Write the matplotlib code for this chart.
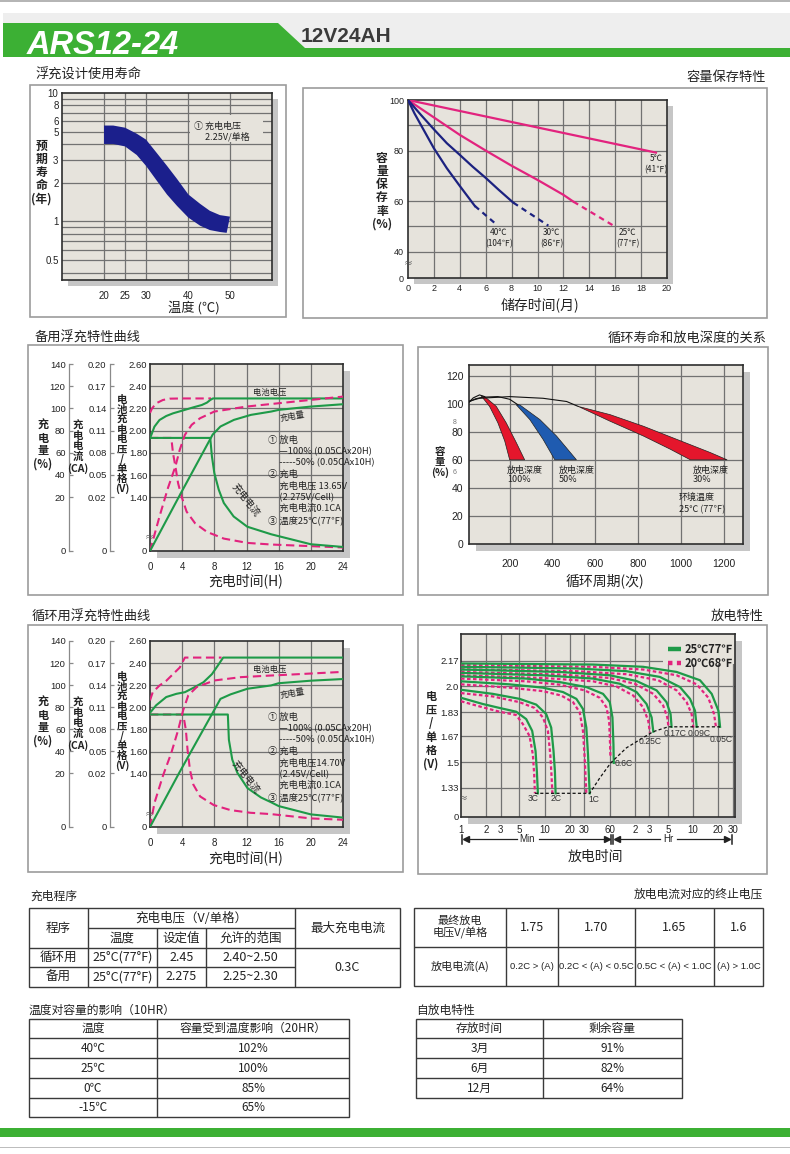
import numpy as np
import matplotlib
matplotlib.use('Agg')
import matplotlib.pyplot as plt
from matplotlib.patches import Rectangle, Polygon
from matplotlib.ticker import NullLocator, NullFormatter

# ===================== DATA =====================
# 1. Float service life vs temperature (band)
life_temp_upper = [20, 22.2, 25, 27.8, 30, 32.6, 35, 37.4, 40.1, 42.9, 45.2, 47.6, 50]
life_years_upper = [5.58, 5.58, 5.37, 4.82, 4.34, 3.40, 2.71, 2.14, 1.62, 1.37, 1.21, 1.12, 1.09]
life_temp_lower = [20, 22.2, 25, 27.8, 30, 32.6, 35, 37.4, 40.1, 42.9, 45.2, 47.6, 49.2]
life_years_lower = [4.01, 4.01, 3.84, 3.29, 2.71, 2.07, 1.62, 1.32, 1.07, 0.926, 0.857, 0.828, 0.815]
life_xticks = [20, 25, 30, 40, 50]
life_yticks = [0.5, 1, 2, 3, 5, 6, 8, 10]
life_ytick_labels = ['0.5', '1', '2', '3', '5', '6', '8', '10']

# 2. Capacity retention during storage
st_month_5C = [0, 19.15]
st_cap_5C = [100, 79.2]
st_month_25C = [0, 2, 4, 6, 8, 10, 12, 12.77]
st_cap_25C = [100, 93.1, 86.2, 80.0, 74.0, 68.4, 62.5, 59.8]
st_month_25C_ext = [12.77, 15.87]
st_cap_25C_ext = [59.8, 50.3]
st_month_30C = [0, 1, 2, 3, 4, 5, 6, 7, 8.13]
st_cap_30C = [100, 94.1, 88.4, 82.9, 78.3, 73.6, 69.2, 64.5, 59.4]
st_month_30C_ext = [8.13, 10.84]
st_cap_30C_ext = [59.4, 50.3]
st_month_40C = [0, 0.5, 1, 2, 3, 4, 5.16]
st_cap_40C = [100, 94.7, 90.1, 80.9, 73.0, 66.0, 58.1]
st_month_40C_ext = [5.16, 6.71]
st_cap_40C_ext = [58.1, 51.3]
st_xticks = [0, 2, 4, 6, 8, 10, 12, 14, 16, 18, 20]
st_yticks = [0, 40, 60, 80, 100]

# 3. Standby float charging characteristics
sb_v100_t = [0, 0.55, 1.18, 2.02, 2.86, 4.0, 5.39, 6.44, 7.07, 7.49, 7.83, 24]
sb_v100 = [1.93, 2.036, 2.096, 2.132, 2.156, 2.18, 2.21, 2.231, 2.252, 2.276, 2.29, 2.29]
sb_v50_t = [0, 0.25, 0.76, 1.6, 2.44, 4.0, 7.6]
sb_v50 = [2.16, 2.20, 2.246, 2.276, 2.288, 2.29, 2.29]
sb_i100_t = [0, 7.49, 7.7, 8.0, 8.55, 9.18, 10.4, 12.1, 15.07, 16, 20, 24]
sb_i100 = [0.1, 0.1, 0.075, 0.0524, 0.0299, 0.0178, 0.0128, 0.009, 0.0062, 0.0055, 0.0025, 0.0015]
sb_i50_t = [0, 2.65, 2.86, 3.16, 3.49, 3.92, 4.55, 5.6, 7.07, 9.18, 12.1, 15.1, 24]
sb_i50 = [0.1, 0.1, 0.0794, 0.0614, 0.0389, 0.0209, 0.0146, 0.0103, 0.0071, 0.0046, 0.003, 0.0024, 0.0013]
sb_q100_t = [0, 3.58, 7.8, 8.76, 10.44, 12.55, 15.07, 16, 20, 24]
sb_q100 = [0, 20, 76.4, 83.6, 89.6, 94.1, 97.1, 98.6, 101.6, 103.7]
sb_q50_t = [0, 1.18, 2.23, 3.16, 3.70, 4.34, 5.18, 6.23, 8.0, 12, 16, 20, 24]
sb_q50 = [0, 12.75, 28.1, 47.6, 62.6, 76.1, 85.1, 91.1, 97.1, 101.6, 104.6, 107.6, 110.6]

# 4. Cycle-use charging characteristics
cy_v100_t = [0, 0.76, 2.02, 3.28, 4.34, 5.39, 6.65, 7.7, 8.42, 9.1, 24]
cy_v100 = [1.95, 2.018, 2.093, 2.122, 2.137, 2.176, 2.227, 2.30, 2.376, 2.45, 2.45]
cy_v50_t = [0, 0.34, 1.18, 2.02, 2.86, 3.7, 4.34, 8.9]
cy_v50 = [2.063, 2.137, 2.197, 2.24, 2.30, 2.36, 2.45, 2.45]
cy_i100_t = [0, 9.68, 9.81, 10.23, 10.86, 12.12, 13.8, 15.07, 16, 20, 24]
cy_i100 = [0.1, 0.1, 0.0656, 0.0387, 0.0208, 0.0145, 0.011, 0.0092, 0.0078, 0.0047, 0.0035]
cy_i50_t = [0, 4.13, 4.46, 4.67, 4.97, 5.39, 6.23, 7.91, 10.0, 12.5, 15.07, 20, 24]
cy_i50 = [0.1, 0.1, 0.079, 0.052, 0.0246, 0.0158, 0.0114, 0.0082, 0.0063, 0.0053, 0.0048, 0.0032, 0.0027]
cy_q100_t = [0, 3.6, 8.76, 10.02, 12.12, 15.07, 16, 20, 24]
cy_q100 = [0, 20, 87.5, 91.6, 96.7, 99.7, 101.7, 104, 105.5]
cy_q50_t = [0, 0.55, 1.6, 2.65, 3.49, 4.13, 4.76, 5.81, 8.0, 11.28, 15.07, 16, 20, 24]
cy_q50 = [0, 8.9, 19, 38.5, 59.0, 77.3, 90.7, 98.2, 104.2, 107.2, 108.7, 109, 110.5, 112]

ch_xticks = [0, 4, 8, 12, 16, 20, 24]
ch_vticks = [0, 1.4, 1.6, 1.8, 2.0, 2.2, 2.4, 2.6]
ch_vtick_labels = ['0', '1.40', '1.60', '1.80', '2.00', '2.20', '2.40', '2.60']
ch_iticks = [0, 0.02, 0.05, 0.08, 0.11, 0.14, 0.17, 0.20]
ch_itick_labels = ['0', '0.02', '0.05', '0.08', '0.11', '0.14', '0.17', '0.20']
ch_qticks = [0, 20, 40, 60, 80, 100, 120, 140]

# 5. Cycle life vs depth of discharge
dod100_left_x = [67, 106, 145, 177, 200]
dod100_left_y = [105.9, 98.4, 86.6, 73.6, 60.2]
dod100_right_x = [83, 137.5, 184, 231, 270]
dod100_right_y = [105.4, 98.4, 86.6, 72.5, 60.2]
dod50_left_x = [231, 294, 356, 411]
dod50_left_y = [99.5, 89, 74.8, 60.2]
dod50_right_x = [247, 341, 419, 512]
dod50_right_y = [99.5, 89, 77.2, 60.2]
dod30_upper_x = [520, 669, 825, 981, 1137, 1216]
dod30_upper_y = [98.4, 92.5, 84.2, 74.8, 65.4, 60.2]
dod30_lower_x = [520, 669, 825, 950, 1044]
dod30_lower_y = [98.4, 87.8, 77.2, 67.8, 60.2]
arcA_x = [5, 30, 59, 83]
arcA_y = [100.7, 104.5, 106.6, 105.4]
arcB_x = [5, 40, 75, 145, 200, 239]
arcB_y = [101.2, 103.8, 105, 105.4, 103.5, 99.5]
arcC_x = [5, 59, 200, 356, 466, 520]
arcC_y = [101.9, 104.2, 105.4, 104.2, 101.9, 98.4]
cyc_xticks = [200, 400, 600, 800, 1000, 1200]
cyc_yticks = [0, 20, 40, 60, 80, 100, 120]

# 6. Discharge characteristics (t in minutes, V per cell)
d_rates = ['3C', '2C', '1C', '0.6C', '0.25C', '0.17C', '0.09C', '0.05C']
d25_t = [
    [1, 1.82, 2.88, 4.57, 6.03, 7.11, 7.80, 8.09, 8.32],
    [1, 2.40, 5.01, 7.94, 10.47, 12.0, 12.8, 13.3, 13.55],
    [1, 3.80, 9.55, 16.6, 24.0, 28.8, 31.6, 33.1, 34.0, 34.7],
    [1, 6.03, 15.1, 31.6, 50.1, 60.3, 64.9, 66.7, 67.3],
    [1, 9.55, 38.0, 79.4, 126, 166, 191, 200],
    [1, 15.1, 60.3, 126, 219, 288, 322, 331],
    [1, 24.0, 95.5, 240, 417, 550, 631, 661],
    [1, 38.0, 151, 380, 724, 1000, 1202, 1259],
]
d25_v = [
    [1.925, 1.884, 1.858, 1.833, 1.784, 1.706, 1.572, 1.438, 1.293],
    [1.978, 1.951, 1.918, 1.880, 1.817, 1.728, 1.572, 1.438, 1.293],
    [2.034, 2.014, 1.992, 1.963, 1.918, 1.851, 1.728, 1.550, 1.394, 1.293],
    [2.067, 2.052, 2.029, 1.996, 1.951, 1.896, 1.795, 1.617, 1.494],
    [2.090, 2.074, 2.052, 2.018, 1.963, 1.884, 1.795, 1.701],
    [2.112, 2.096, 2.074, 2.036, 1.974, 1.896, 1.817, 1.733],
    [2.130, 2.119, 2.101, 2.063, 1.996, 1.918, 1.840, 1.733],
    [2.152, 2.145, 2.130, 2.096, 2.041, 1.951, 1.840, 1.733],
]
d20_t = [
    [1, 1.82, 2.88, 4.57, 5.50, 6.61, 7.24, 7.52, 7.66],
    [1, 2.40, 5.01, 7.59, 9.55, 10.96, 11.7, 12.1, 12.4],
    [1, 3.80, 9.55, 15.8, 21.9, 26.3, 28.8, 30.2, 31.0, 31.6],
    [1, 6.03, 15.1, 30.2, 45.7, 55.0, 59.2, 60.8, 61.4],
    [1, 9.55, 38.0, 72.4, 115, 151, 174, 182],
    [1, 15.1, 60.3, 120, 200, 263, 294, 305],
    [1, 24.0, 95.5, 229, 380, 501, 575, 603],
    [1, 38.0, 151, 380, 661, 912, 1067, 1127],
]
d20_v = [
    [1.902, 1.862, 1.833, 1.811, 1.751, 1.672, 1.550, 1.416, 1.293],
    [1.956, 1.934, 1.896, 1.858, 1.795, 1.706, 1.550, 1.416, 1.293],
    [2.014, 1.992, 1.969, 1.940, 1.896, 1.829, 1.706, 1.527, 1.394, 1.293],
    [2.052, 2.034, 2.012, 1.974, 1.925, 1.862, 1.773, 1.617, 1.527],
    [2.074, 2.056, 2.034, 2.000, 1.940, 1.862, 1.773, 1.695],
    [2.096, 2.079, 2.056, 2.018, 1.951, 1.873, 1.795, 1.728],
    [2.114, 2.101, 2.081, 2.041, 1.974, 1.896, 1.817, 1.728],
    [2.141, 2.130, 2.112, 2.074, 2.014, 1.925, 1.817, 1.728],
]
cutoff_t = [7.66, 34.7, 45.7, 61.9, 95.5, 151, 200, 302, 1259]
cutoff_v = [1.293, 1.293, 1.394, 1.494, 1.594, 1.661, 1.701, 1.733, 1.733]
d_xticks = [1, 2, 3, 5, 10, 20, 30, 60, 120, 180, 300, 600, 1200, 1800]
d_xtick_labels = ['1', '2', '3', '5', '10', '20', '30', '60', '2', '3', '5', '10', '20', '30']
d_yticks = [0, 1.33, 1.5, 1.67, 1.83, 2.0, 2.17]
d_ytick_labels = ['0', '1.33', '1.5', '1.67', '1.83', '2.0', '2.17']

# Tables
tbl1_header = ['程序', '充电电压（V/单格）', '最大充电电流', '温度', '设定值', '允许的范围']
tbl1_rows = [['循环用', '25°C(77°F)', '2.45', '2.40~2.50'],
             ['备用', '25°C(77°F)', '2.275', '2.25~2.30']]
tbl1_max_current = '0.3C'
tbl2_row1 = ['最终放电\n电压V/单格', '1.75', '1.70', '1.65', '1.6']
tbl2_row2 = ['放电电流(A)', '0.2C > (A)', '0.2C < (A) < 0.5C', '0.5C < (A) < 1.0C', '(A) > 1.0C']
tbl3_header = ['温度', '容量受到温度影响（20HR）']
tbl3_rows = [['40℃', '102%'], ['25℃', '100%'], ['0℃', '85%'], ['-15℃', '65%']]
tbl4_header = ['存放时间', '剩余容量']
tbl4_rows = [['3月', '91%'], ['6月', '82%'], ['12月', '64%']]

# ===================== STYLE =====================
plt.rcParams['font.family'] = ['Noto Sans CJK SC', 'DejaVu Sans']
plt.rcParams['axes.unicode_minus'] = False
F_NUM = ['Liberation Sans', 'Noto Sans CJK SC', 'DejaVu Sans']
F_CJK = ['Noto Sans CJK SC', 'DejaVu Sans']
F_NAR = ['Liberation Sans Narrow', 'Liberation Sans', 'DejaVu Sans']

PLOT_BG = '#e6e3dc'
GRID = '#727272'
SHADOW = '#c6c6c6'
GREEN = '#1e9a48'
PINK = '#e2237e'
NAVY = '#1c2280'
BAND = '#1b1f8c'
RED = '#e4162c'
BLUE = '#1f5bb0'
HEAD_GREEN = '#3cb034'
TXT = '#222222'

W, H = 790, 1154
fig = plt.figure(figsize=(W / 100, H / 100), dpi=100)
fig.patch.set_facecolor('white')


def frac(x0, y0, x1, y1):
    return [x0 / W, 1 - y1 / H, (x1 - x0) / W, (y1 - y0) / H]


def brk(b, k):
    def fwd(v):
        v = np.asarray(v, dtype=float)
        return np.where(v >= b, v, b - (b - v) * k)

    def inv(u):
        u = np.asarray(u, dtype=float)
        return np.where(u >= b, u, b - (b - u) / k)
    return fwd, inv


bg = fig.add_axes([0, 0, 1, 1])
bg.set_xlim(0, W)
bg.set_ylim(H, 0)
bg.axis('off')


def make_plot(x0, y0, x1, y1, sh=7):
    bg.add_patch(Rectangle((x0 + sh, y0 + sh), x1 - x0, y1 - y0, color=SHADOW, lw=0, zorder=1))
    ax = fig.add_axes(frac(x0, y0, x1, y1))
    ax.set_facecolor(PLOT_BG)
    for s in ax.spines.values():
        s.set_color('#2e2e2e')
        s.set_linewidth(1.2)
    ax.tick_params(length=0, labelsize=7, colors=TXT)
    return ax


def grid_lines(ax, xs=(), ys=()):
    for x in xs:
        ax.axvline(x, color=GRID, lw=0.9, zorder=0.6)
    for y in ys:
        ax.axhline(y, color=GRID, lw=0.9, zorder=0.6)


# ---------------- header / footer ----------------
bg.add_patch(Rectangle((0, 0), W, 1.5, color='#b5b5b5', lw=0))
bg.add_patch(Rectangle((3, 13), W - 3, 35, color='#eeeeee', lw=0))
bg.add_patch(Polygon([(3, 23), (278, 23), (305, 48), (W, 48), (W, 57), (3, 57)],
                     closed=True, color=HEAD_GREEN, lw=0))
bg.text(27, 54.5, 'ARS12-24', color='white', fontsize=23.5, fontweight='bold',
        fontstyle='italic', family=F_NAR, va='baseline', ha='left')
bg.text(301, 42, '12V24AH', color='#3a3a3a', fontsize=15, fontweight='bold',
        family=F_NAR, va='baseline', ha='left')
bg.add_patch(Rectangle((0, 1127.5), W, 9.5, color=HEAD_GREEN, lw=0))
bg.add_patch(Rectangle((0, 1147), W, 1.2, color='#bdbdbd', lw=0))

# section boxes
for (x0, y0, x1, y1) in [(30, 85, 286, 317), (303, 88, 767, 318), (28, 345, 403, 595),
                         (418, 347, 768, 595), (28, 625, 403, 872), (418, 625, 767, 874)]:
    bg.add_patch(Rectangle((x0, y0), x1 - x0, y1 - y0, fill=False, ec='#9c9c9c', lw=1.2, zorder=2))

# ---------------- charts ----------------
# 1. life
ax1 = make_plot(62, 93, 272, 280, sh=6)
ax1.set_yscale('log')
ax1.set_xlim(10, 60)
ax1.set_ylim(0.35, 10)
grid_lines(ax1, xs=life_xticks, ys=[0.4, 0.5, 0.6, 0.7, 0.8, 0.9, 1, 2, 3, 4, 5, 6, 7, 8, 9])
ax1.add_patch(Rectangle((0.61, 0.738), 0.347, 0.144, transform=ax1.transAxes,
                        color=PLOT_BG, lw=0, zorder=1))
ax1.fill(life_temp_upper + life_temp_lower[::-1], life_years_upper + life_years_lower[::-1],
         color=BAND, lw=0, zorder=3)
ax1.set_xticks(life_xticks, labels=[str(v) for v in life_xticks], fontfamily=F_NUM, fontsize=7)
ax1.set_yticks(life_yticks, labels=life_ytick_labels, fontfamily=F_NUM, fontsize=7)
ax1.yaxis.set_minor_locator(NullLocator())
ax1.yaxis.set_minor_formatter(NullFormatter())
ax1.tick_params(axis='x', pad=8)
ax1.tick_params(axis='y', pad=2.5)

# 2. storage
ax2 = make_plot(408, 100, 667, 278, sh=6)
ax2.set_yscale('function', functions=brk(40, 0.26))
ax2.set_xlim(0, 20)
ax2.set_ylim(0, 100)
grid_lines(ax2, xs=st_xticks[1:-1], ys=[40, 50, 60, 70, 80, 90])
ax2.plot(st_month_5C, st_cap_5C, color=PINK, lw=1.6, zorder=3)
ax2.plot(st_month_25C, st_cap_25C, color=PINK, lw=1.6, zorder=3)
ax2.plot(st_month_25C_ext, st_cap_25C_ext, color=PINK, lw=1.6, ls=(0, (2.5, 2)), zorder=3)
ax2.plot(st_month_30C, st_cap_30C, color=NAVY, lw=1.6, zorder=3)
ax2.plot(st_month_30C_ext, st_cap_30C_ext, color=NAVY, lw=1.6, ls=(0, (2.5, 2)), zorder=3)
ax2.plot(st_month_40C, st_cap_40C, color=NAVY, lw=1.6, zorder=3)
ax2.plot(st_month_40C_ext, st_cap_40C_ext, color=NAVY, lw=1.6, ls=(0, (2.5, 2)), zorder=3)
ax2.set_xticks(st_xticks, labels=[str(v) for v in st_xticks], fontfamily=F_NUM, fontsize=6.5)
ax2.set_yticks(st_yticks, labels=[str(v) for v in st_yticks], fontfamily=F_NUM, fontsize=6.5)
ax2.tick_params(axis='x', pad=4)
ax2.tick_params(axis='y', pad=3)


# 3 & 4. charging characteristic charts
def charge_chart(x0, y0, x1, y1, v100t, v100, v50t, v50, i100t, i100, i50t, i50,
                 q100t, q100, q50t, q50):
    axv = make_plot(x0, y0, x1, y1)
    axv.set_yscale('function', functions=brk(1.4, 0.345))
    axv.set_xlim(0, 24)
    axv.set_ylim(0, 2.6)
    grid_lines(axv, xs=ch_xticks[1:-1], ys=[1.4, 1.6, 1.8, 2.0, 2.2, 2.4])
    axv.set_xticks(ch_xticks, labels=[str(v) for v in ch_xticks], fontfamily=F_NUM, fontsize=7)
    axv.set_yticks(ch_vticks, labels=ch_vtick_labels, fontfamily=F_NUM, fontsize=6.8)
    axv.tick_params(axis='x', pad=8)
    axv.tick_params(axis='y', pad=2)
    dash = (0, (4, 2.2))
    axv.plot(v50t, v50, color=PINK, lw=1.5, ls=dash, zorder=3)
    axv.plot(v100t, v100, color=GREEN, lw=1.5, zorder=4)

    axes = []
    for scale, lim, ticks, labels, out in [
            (brk(0.02, 3.65), (0, 0.2), ch_iticks, ch_itick_labels, 28.8),
            (brk(20, 2.436), (0, 140), ch_qticks, [str(v) for v in ch_qticks], 58.3)]:
        a = fig.add_axes(frac(x0, y0, x1, y1), sharex=axv)
        a.patch.set_visible(False)
        a.set_yscale('function', functions=scale)
        a.set_ylim(*lim)
        for s in ['top', 'right', 'bottom']:
            a.spines[s].set_visible(False)
        a.spines['left'].set_position(('outward', out))
        a.spines['left'].set_color('#8a8a8a')
        a.spines['left'].set_linewidth(0.9)
        a.xaxis.set_visible(False)
        a.set_yticks(ticks, labels=labels, fontfamily=F_NUM, fontsize=6.8)
        a.tick_params(axis='y', direction='in', length=3, width=0.9, color='#8a8a8a',
                      labelcolor=TXT, pad=2.5)
        axes.append(a)
    axi, axq = axes
    axi.plot(i50t, i50, color=PINK, lw=1.5, ls=dash, zorder=3)
    axi.plot(i100t, i100, color=GREEN, lw=1.5, zorder=4)
    axq.plot(q50t, q50, color=PINK, lw=1.5, ls=dash, zorder=3)
    axq.plot(q100t, q100, color=GREEN, lw=1.5, zorder=4)
    return axv


ax3 = charge_chart(150, 364, 343, 551, sb_v100_t, sb_v100, sb_v50_t, sb_v50,
                   sb_i100_t, sb_i100, sb_i50_t, sb_i50, sb_q100_t, sb_q100, sb_q50_t, sb_q50)

# 5. cycle life
ax5 = make_plot(469, 365, 743, 544)
ax5.set_xlim(10, 1290)
ax5.set_ylim(0, 128)
grid_lines(ax5, xs=cyc_xticks, ys=cyc_yticks[1:])
ax5.fill(dod100_left_x + dod100_right_x[::-1], dod100_left_y + dod100_right_y[::-1],
         color=RED, ec='#222', lw=0.5, zorder=3)
ax5.fill(dod50_left_x + dod50_right_x[::-1], dod50_left_y + dod50_right_y[::-1],
         color=BLUE, ec='#222', lw=0.5, zorder=3)
ax5.fill(dod30_upper_x + dod30_lower_x[::-1], dod30_upper_y + dod30_lower_y[::-1],
         color=RED, ec='#222', lw=0.5, zorder=3)
for ax_, ay_ in [(arcA_x, arcA_y), (arcB_x, arcB_y), (arcC_x, arcC_y)]:
    ax5.plot(ax_, ay_, color='#111', lw=0.8, zorder=4)
ax5.set_xticks(cyc_xticks, labels=[str(v) for v in cyc_xticks], fontfamily=F_NUM, fontsize=7.5)
ax5.set_yticks(cyc_yticks, labels=[str(v) for v in cyc_yticks], fontfamily=F_NUM, fontsize=7.5)
ax5.tick_params(axis='x', pad=11)
ax5.tick_params(axis='y', pad=4)

# 4. cycle charging
ax4 = charge_chart(150, 641, 343, 827, cy_v100_t, cy_v100, cy_v50_t, cy_v50,
                   cy_i100_t, cy_i100, cy_i50_t, cy_i50, cy_q100_t, cy_q100, cy_q50_t, cy_q50)

# 6. discharge
ax6 = make_plot(461, 634, 735, 817)
ax6.set_xscale('log')
ax6.set_yscale('function', functions=brk(1.25, 0.091))
ax6.set_xlim(1, 1900)
ax6.set_ylim(0, 2.347)
grid_lines(ax6, xs=d_xticks[1:], ys=d_yticks[1:])
ax6.add_patch(Rectangle((0.737, 0.835), 0.263, 0.165, transform=ax6.transAxes,
                        color=PLOT_BG, lw=0, zorder=1))
for t_, v_ in zip(d20_t, d20_v):
    ax6.plot(t_, v_, color=PINK, lw=1.6, ls=(0, (1.6, 1.1)), zorder=3)
for t_, v_ in zip(d25_t, d25_v):
    ax6.plot(t_, v_, color=GREEN, lw=1.6, zorder=4)
ax6.plot(cutoff_t, cutoff_v, color='#111', lw=0.9, ls=(0, (2.5, 1.8)), zorder=5)
ax6.set_xticks(d_xticks, labels=d_xtick_labels, fontfamily=F_NUM, fontsize=7)
ax6.xaxis.set_minor_locator(NullLocator())
ax6.xaxis.set_minor_formatter(NullFormatter())
ax6.set_yticks(d_yticks, labels=d_ytick_labels, fontfamily=F_NUM, fontsize=6.8)
ax6.tick_params(axis='x', pad=6)
ax6.tick_params(axis='y', pad=1.5)

# Min / Hr brackets
yb = 839
for xs in [(466, 517), (539, 607), (617, 660), (677, 727)]:
    bg.plot(xs, [yb, yb], color='#222', lw=0.9)
for xb in [461.7, 610.7, 613.3, 731.5]:
    bg.plot([xb, xb], [yb - 4.5, yb + 4.5], color='#222', lw=1.1)
for xm, mk in [(466, '<'), (607, '>'), (617, '<'), (727, '>')]:
    bg.plot([xm], [yb], marker=mk, ms=4.5, color='#222', mec='#222')


# ---------------- tables ----------------
def tline(xs, ys):
    bg.plot(xs, ys, color='#3a3a3a', lw=1.0, solid_capstyle='butt', zorder=3)


# table 1
tx = [29, 88, 157, 206, 295, 400]
ty = [908, 928, 948, 967, 987]
bg.add_patch(Rectangle((29, 908), 371, 79, fill=False, ec='#3a3a3a', lw=1.0, zorder=3))
tline([88, 88], [908, 987]); tline([295, 295], [908, 987])
tline([157, 157], [928, 987]); tline([206, 206], [928, 987])
tline([88, 295], [928, 928]); tline([29, 400], [948, 948]); tline([29, 295], [967, 967])

# table 2
ux = [414, 506, 558, 635, 714, 763]
bg.add_patch(Rectangle((414, 908), 349, 78, fill=False, ec='#3a3a3a', lw=1.0, zorder=3))
for x in ux[1:-1]:
    tline([x, x], [908, 986])
tline([414, 763], [947, 947])

# table 3
vy = [1019, 1038, 1058, 1078, 1098, 1117]
bg.add_patch(Rectangle((29, 1019), 320, 98, fill=False, ec='#3a3a3a', lw=1.0, zorder=3))
tline([157, 157], [1019, 1117])
for y in vy[1:-1]:
    tline([29, 349], [y, y])

# table 4
wy = [1019, 1038, 1058, 1078, 1098]
bg.add_patch(Rectangle((416, 1019), 266, 79, fill=False, ec='#3a3a3a', lw=1.0, zorder=3))
tline([543, 543], [1019, 1098])
for y in wy[1:-1]:
    tline([416, 682], [y, y])

# ---------------- overlay texts ----------------
fg = fig.add_axes([0, 0, 1, 1])
fg.set_xlim(0, W)
fg.set_ylim(H, 0)
fg.axis('off')
fg.patch.set_visible(False)


def T(x, y, s, size=8, ha='left', va='center', **kw):
    kw.setdefault('color', TXT)
    kw.setdefault('family', F_CJK)
    fg.text(x, y, s, fontsize=size, ha=ha, va=va, **kw)


def block(x, y_first, y_last, lines, size, ha='left', **kw):
    """multi-line text whose line pitch matches (y_last - y_first)/(n-1) pixels"""
    n = len(lines)
    step = (y_last - y_first) / (n - 1)
    ls = step / (0.95 * size * 100 / 72)
    T(x, (y_first + y_last) / 2, '\n'.join(lines), size, ha=ha, linespacing=ls,
      multialignment=ha, **kw)


# section titles
T(35, 75, '浮充设计使用寿命', 9.5)
T(766, 77, '容量保存特性', 9.5, ha='right')
T(35, 338, '备用浮充特性曲线', 9.5)
T(767, 338, '循环寿命和放电深度的关系', 9.5, ha='right')
T(32, 617, '循环用浮充特性曲线', 9.5)
T(764, 616, '放电特性', 9.5, ha='right')
T(30, 896, '充电程序', 8.5)
T(763, 894, '放电电流对应的终止电压', 8.5, ha='right')
T(29, 1010, '温度对容量的影响（10HR）', 8.5)
T(416, 1010, '自放电特性', 8.5)

IND = '\u3000 '
# chart 1 texts
block(194, 127, 137, ['① 充电电压', IND + '2.25V/单格'], 6.5)
T(168, 308, '温度 (℃)', 9.5)
block(41.5, 150, 195, ['预', '期', '寿', '命', '(年)'], 8.5, ha='center', fontweight='bold')

# chart 2 texts
T(540, 305, '储存时间(月)', 10, ha='center')
block(382, 163, 220, ['容', '量', '保', '存', '率', '(%)'], 8.5, ha='center', fontweight='bold')
T(408, 263, '≈', 6.5, ha='center', color='#555')
for x, lines in [(499, ['40℃', '(104℉)']), (552, ['30℃', '(86℉)']),
                 (628, ['25℃', '(77℉)'])]:
    block(x, 233, 243.5, lines, 6, ha='center')
block(656, 159, 169.5, ['5℃', '(41℉)'], 6, ha='center')


# chart 3 & 4 texts
def charge_texts(dy, volt_txt, cell_txt):
    block(43, 429 + dy, 460 + dy, ['充', '电', '量', '(%)'], 8, ha='center', fontweight='bold')
    block(78, 426 + dy, 468 + dy, ['充', '电', '电', '流', '(CA)'], 7.5, ha='center',
          fontweight='bold')
    block(122, 401.7 + dy, 488 + dy,
          ['电', '池', '充', '电', '电', '压', '/', '单', '格', '(V)'], 7.5, ha='center',
          fontweight='bold')
    T(246, 581 + dy, '充电时间(H)', 10, ha='center')
    T(149, 537 + dy, '≈', 6.5, ha='center', color='#555')
    T(270, 392.5 + dy, '电池电压', 6, ha='center')
    T(292, 416 + dy, '充电量', 6, ha='center', rotation=10)
    T(246, 500 + dy, '充电电流', 7, ha='center', rotation=-52)
    block(268, 440 + dy, 521 + dy,
          ['① 放电', IND + '—100% (0.05CAx20H)', IND + '-----50% (0.05CAx10H)', '② 充电',
           IND + volt_txt, IND + cell_txt, IND + '充电电流0.1CA', '③ 温度25℃(77℉)'], 6.7)


charge_texts(0, '充电电压 13.65V', '(2.275V/Cell)')
charge_texts(277, '充电电压14.70V', '(2.45V/Cell)')

# chart 5 texts
T(605, 581, '循环周期(次)', 10, ha='center')
block(440, 453, 472, ['容', '量', '(%)'], 7.5, ha='center', fontweight='bold')
T(455, 422, '8', 5, ha='center', color='#777', family=F_NUM)
T(455, 473, '6', 5, ha='center', color='#777', family=F_NUM)
for x, pct in [(507, '100%'), (559, '50%'), (693, '30%')]:
    block(x, 470.5, 479.5, ['放电深度', pct], 6.5)
block(679, 497, 510, ['环境温度', '25℃ (77℉)'], 6.5)

# chart 6 texts
T(595, 857, '放电时间', 10, ha='center')
block(431, 703, 758, ['电', '压', '/', '单', '格', '(V)'], 8, ha='center', fontweight='bold')
T(463, 798, '≈', 6.5, ha='center', color='#555')
T(527, 839, 'Min', 7, ha='center', family=F_NUM)
T(668, 839, 'Hr', 7, ha='center', family=F_NUM)
for (x, y), lab in zip([(533, 798.5), (556.5, 798.5), (594, 799.5), (624, 764),
                        (650, 742), (675, 733), (699, 734), (721, 740)], d_rates):
    T(x, y, lab, 6.2, ha='center', family=F_NUM, color='#333')
fg.plot([668, 681], [649, 649], color=GREEN, lw=3.2, solid_capstyle='butt')
fg.plot([668, 681], [663, 663], color=PINK, lw=3.2, ls=(0, (1.0, 1.0)))
T(685, 649, '25℃77℉', 8, fontweight='bold', fontstyle='italic')
T(685, 663, '20℃68℉', 8, fontweight='bold', fontstyle='italic')

# table texts
TS = 9
T(58.5, 928, tbl1_header[0], TS, ha='center')
T(191.5, 918, tbl1_header[1], TS, ha='center')
T(347.5, 928, tbl1_header[2], TS, ha='center')
for xc, s in zip([122.5, 181.5, 250.5], tbl1_header[3:]):
    T(xc, 938, s, TS, ha='center')
for yc, row in zip([957.5, 977], tbl1_rows):
    for xc, s in zip([58.5, 122.5, 181.5, 250.5], row):
        T(xc, yc, s, TS, ha='center')
T(347.5, 967.5, tbl1_max_current, TS, ha='center')

centers2 = [(ux[i] + ux[i + 1]) / 2 for i in range(5)]
for i, (xc, s) in enumerate(zip(centers2, tbl2_row1)):
    T(xc, 927.5, s, 9 if i else 8, ha='center', linespacing=1.1)
for i, (xc, s) in enumerate(zip(centers2, tbl2_row2)):
    if i == 0:
        T(xc, 966.5, s, 8, ha='center')
    else:
        T(xc, 966.5, s, 6.8, ha='center', family=F_NAR)

for yc, row in zip([(vy[i] + vy[i + 1]) / 2 for i in range(5)], [tbl3_header] + tbl3_rows):
    T(93, yc, row[0], 8.5, ha='center')
    T(253, yc, row[1], 8.5, ha='center')
for yc, row in zip([(wy[i] + wy[i + 1]) / 2 for i in range(4)], [tbl4_header] + tbl4_rows):
    T(479.5, yc, row[0], 8.5, ha='center')
    T(612.5, yc, row[1], 8.5, ha='center')

fig.savefig('out.png', dpi=100, facecolor='white')
